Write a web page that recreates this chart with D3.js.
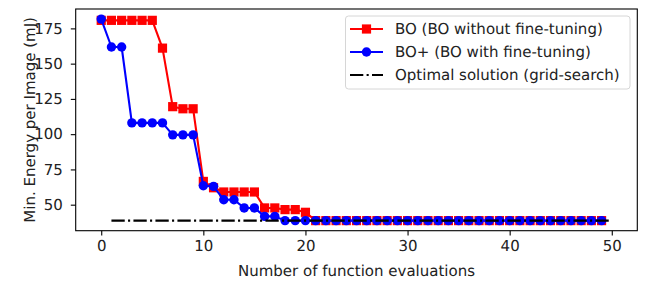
<!DOCTYPE html>
<html>
<head>
<meta charset="utf-8">
<script src="https://cdn.jsdelivr.net/npm/d3@7"></script>
<style>
  body { margin: 0; background: #fff; }
  svg { font-family: "DejaVu Sans", sans-serif; text-rendering: geometricPrecision; }
</style>
</head>
<body>
<svg></svg>
<script>
const evals = d3.range(0, 50);
const boValues = [
  180.7, 180.7, 180.7, 180.7, 180.7, 180.7, 161, 119.5, 118, 118,
  66.5, 62, 59, 59, 59, 59, 47.7, 47.7, 46.5, 46.5,
  44.6, 38.7, 38.7, 38.7, 38.7, 38.7, 38.7, 38.7, 38.7, 38.7,
  38.7, 38.7, 38.7, 38.7, 38.7, 38.7, 38.7, 38.7, 38.7, 38.7,
  38.7, 38.7, 38.7, 38.7, 38.7, 38.7, 38.7, 38.7, 38.7, 38.7
];
const boPlusValues = [
  181.6, 161.8, 161.8, 108, 108, 108, 108, 99.5, 99.5, 99.5,
  63.4, 63, 53.5, 53.5, 47.7, 47.7, 41.7, 41.7, 38.7, 38.7,
  38.7, 38.7, 38.7, 38.7, 38.7, 38.7, 38.7, 38.7, 38.7, 38.7,
  38.7, 38.7, 38.7, 38.7, 38.7, 38.7, 38.7, 38.7, 38.7, 38.7,
  38.7, 38.7, 38.7, 38.7, 38.7, 38.7, 38.7, 38.7, 38.7, 38.7
];
const optimalX = [1, 50];
const optimalY = [38.7, 38.7];
const xTicks = [0, 10, 20, 30, 40, 50];
const yTicks = [50, 75, 100, 125, 150, 175];
const legendLabels = [
  "BO (BO without fine-tuning)",
  "BO+ (BO with fine-tuning)",
  "Optimal solution (grid-search)"
];

const width = 649;
const height = 283;
const marginLeft = 75.7;
const marginRight = 11.7;
const marginTop = 9;
const marginBottom = 52.3;
const fontSize = 15;

const svg = d3.select("svg").attr("width", width).attr("height", height);

// matplotlib style 5% margins
const xMin = 0, xMax = 50;
const xPad = (xMax - xMin) * 0.05;
const x = d3.scaleLinear([xMin - xPad, xMax + xPad], [marginLeft, width - marginRight]);

const allY = boValues.concat(boPlusValues, optimalY);
const yLo = d3.min(allY), yHi = d3.max(allY);
const yPad = (yHi - yLo) * 0.05;
const y = d3.scaleLinear([yLo - yPad, yHi + yPad], [height - marginBottom, marginTop]);

// axes
const xAxis = svg.append("g")
  .attr("transform", `translate(0,${height - marginBottom})`)
  .call(d3.axisBottom(x).tickValues(xTicks).tickSize(4.9).tickPadding(4.3).tickSizeOuter(0));
const yAxis = svg.append("g")
  .attr("transform", `translate(${marginLeft},0)`)
  .call(d3.axisLeft(y).tickValues(yTicks).tickSize(4.9).tickPadding(8).tickSizeOuter(0));
[xAxis, yAxis].forEach(g => {
  g.select(".domain").remove();
  g.selectAll("line").attr("stroke", "#000").attr("stroke-width", 1.1);
  g.selectAll("text").attr("font-size", fontSize).attr("fill", "#222")
    .attr("font-family", "DejaVu Sans, sans-serif");
});

const plot = svg.append("g");

function drawSeries(values, color, shape) {
  const line = d3.line().x((d, i) => x(evals[i])).y(d => y(d));
  plot.append("path")
    .datum(values)
    .attr("fill", "none")
    .attr("stroke", color)
    .attr("stroke-width", 2.1)
    .attr("stroke-linejoin", "round")
    .attr("d", line);
  const sym = d3.symbol().type(shape === "square" ? d3.symbolSquare : d3.symbolCircle)
    .size(shape === "square" ? 9.2 * 9.2 : Math.PI * 4.7 * 4.7);
  plot.selectAll(null)
    .data(values)
    .enter()
    .append("path")
    .attr("transform", (d, i) => `translate(${x(evals[i])},${y(d)})`)
    .attr("d", sym)
    .attr("fill", color);
}

drawSeries(boValues, "#ff0000", "square");
drawSeries(boPlusValues, "#0000ff", "circle");

plot.append("path")
  .datum(optimalX.map((v, i) => [v, optimalY[i]]))
  .attr("fill", "none")
  .attr("stroke", "#000")
  .attr("stroke-width", 2.1)
  .attr("stroke-dasharray", "13.3,3.3,2.1,3.3")
  .attr("d", d3.line().x(d => x(d[0])).y(d => y(d[1])));

// frame
svg.append("rect")
  .attr("x", marginLeft).attr("y", marginTop)
  .attr("width", width - marginLeft - marginRight)
  .attr("height", height - marginTop - marginBottom)
  .attr("fill", "none").attr("stroke", "#000").attr("stroke-width", 1.1);

// axis labels
svg.append("text")
  .attr("x", (marginLeft + width - marginRight) / 2)
  .attr("y", 275.7)
  .attr("text-anchor", "middle")
  .attr("font-size", fontSize).attr("fill", "#222")
  .text("Number of function evaluations");
svg.append("text")
  .attr("transform", `translate(35,${(marginTop + height - marginBottom) / 2}) rotate(-90)`)
  .attr("text-anchor", "middle")
  .attr("font-size", fontSize).attr("fill", "#222")
  .text("Min. Energy per Image (mJ)");

// legend
const legend = svg.append("g");
legend.append("rect")
  .attr("x", 345.5).attr("y", 16).attr("width", 284.5).attr("height", 73)
  .attr("rx", 3).attr("fill", "#fff").attr("fill-opacity", 0.8)
  .attr("stroke", "#d6d6d6").attr("stroke-width", 1);
const legendColors = ["#ff0000", "#0000ff", "#000"];
legendLabels.forEach((label, i) => {
  const ly = 29 + i * 23;
  const row = legend.append("g");
  if (i < 2) {
    row.append("line").attr("x1", 350).attr("x2", 383).attr("y1", ly).attr("y2", ly)
      .attr("stroke", legendColors[i]).attr("stroke-width", 2.1);
    row.append("path")
      .attr("transform", `translate(366.5,${ly})`)
      .attr("d", d3.symbol().type(i === 0 ? d3.symbolSquare : d3.symbolCircle)
        .size(i === 0 ? 9.2 * 9.2 : Math.PI * 4.7 * 4.7)())
      .attr("fill", legendColors[i]);
  } else {
    row.append("line").attr("x1", 350).attr("x2", 383).attr("y1", ly).attr("y2", ly)
      .attr("stroke", "#000").attr("stroke-width", 2.1)
      .attr("stroke-dasharray", "13.3,3.3,2.1,3.3");
  }
  row.append("text")
    .attr("x", 395).attr("y", ly).attr("dy", "0.35em")
    .attr("font-size", fontSize).attr("fill", "#222")
    .text(label);
});
</script>
</body>
</html>
